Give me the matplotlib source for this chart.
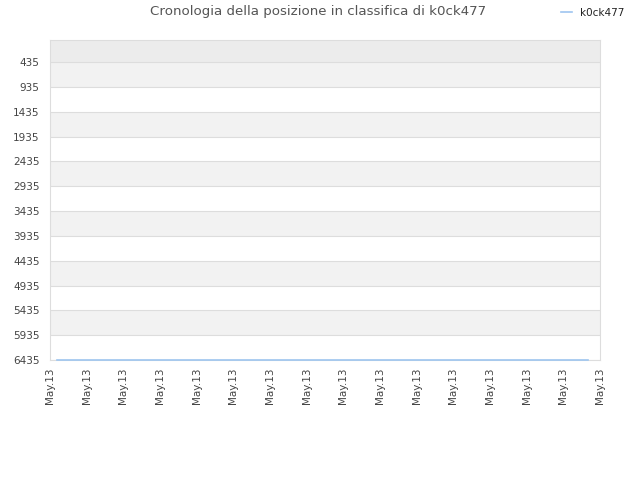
import numpy as np
import matplotlib
matplotlib.use("Agg")
import matplotlib.pyplot as plt

# data
tick_labels = ["May.13"] * 16
y_ticks = [435, 935, 1435, 1935, 2435, 2935, 3435, 3935,
           4435, 4935, 5435, 5935, 6435]
pos_x = [0.18, 2.0, 4.0, 6.0, 8.0, 10.0, 12.0, 14.68]
pos_rank = [6435, 6435, 6435, 6435, 6435, 6435, 6435, 6435]
player = "k0ck477"

fig = plt.figure(figsize=(6.4, 4.8), dpi=100)
ax = fig.add_axes([50/640, 120/480, 550/640, 320/480])

# alternating bands
ax.axhspan(-10, y_ticks[0], color="#ececec", zorder=0, lw=0)
for i in range(len(y_ticks) - 1):
    c = "#f2f2f2" if i % 2 == 0 else "#ffffff"
    ax.axhspan(y_ticks[i], y_ticks[i+1], color=c, zorder=0, lw=0)
for yv in y_ticks:
    ax.axhline(yv, color="#dddddd", lw=0.8, zorder=1)

ax.plot(pos_x, pos_rank, color="#9ec5f0", lw=1.2, zorder=5, label=player,
        clip_on=False)

ax.set_xlim(0, len(tick_labels) - 1)
ax.set_ylim(6435, -10)
ax.set_yticks(y_ticks)
ax.set_yticklabels([str(v) for v in y_ticks], fontsize=7.5, color="#444444")
ax.set_xticks(range(len(tick_labels)))
ax.set_xticklabels(tick_labels, rotation=90, fontsize=7.5, color="#444444")
ax.tick_params(axis="y", length=0, pad=7.5)
ax.tick_params(axis="x", length=0, pad=5.5)
for s in ax.spines.values():
    s.set_color("#dddddd")
    s.set_linewidth(0.8)

fig.text(318/640, 1 - 12/480, "Cronologia della posizione in classifica di " + player,
         ha="center", va="center", fontsize=9.6, color="#555555")
fig.legend(loc="center left", bbox_to_anchor=(556/640, 1 - 13/480), frameon=False,
           fontsize=7.5, handlelength=1.0, handletextpad=0.8, borderpad=0,
           labelcolor="#222222")

fig.savefig("out.png", dpi=100)
